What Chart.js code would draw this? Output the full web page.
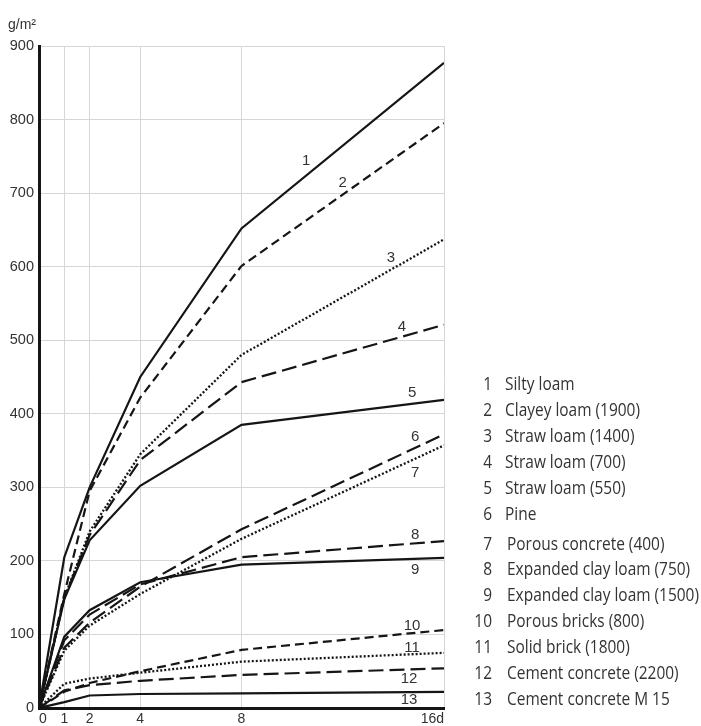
<!DOCTYPE html>
<html>
<head>
<meta charset="utf-8">
<script src="https://cdn.jsdelivr.net/npm/chart.js@4/dist/chart.umd.min.js"></script>
<style>
html,body{margin:0;padding:0;background:#fff;}
#wrap{width:701px;height:726px;position:relative;}
</style>
</head>
<body>
<div id="wrap"><canvas id="c" width="701" height="726"></canvas></div>
<script>
// ---- data ----
const xDays = [0, 1, 2, 4, 8, 16];
const xTickLabels = ["0", "1", "2", "4", "8", "16d"];
const yTicks = [0, 100, 200, 300, 400, 500, 600, 700, 800, 900];
const unitLabel = "g/m²";

const s1  = [0, 205, 300, 450, 652, 877];
const s2  = [0, 155, 295, 422, 601, 795];
const s3  = [0, 150, 240, 345, 480, 637];
const s4  = [0, 150, 235, 337, 443, 521];
const s5  = [0, 148, 228, 302, 385, 419];
const s6  = [0, 82, 116, 165, 243, 372];
const s7  = [0, 78, 112, 155, 230, 357];
const s8  = [0, 92, 127, 168, 205, 227];
const s9  = [0, 97, 133, 171, 195, 204];
const s10 = [0, 22, 34, 50, 79, 106];
const s11 = [0, 33, 40, 48, 63, 75];
const s12 = [0, 24, 31, 37, 45, 54];
const s13 = [0, 8, 17, 19, 20, 22];

const seriesNumbers = ["1","2","3","4","5","6","7","8","9","10","11","12","13"];
const seriesNames = [
  "Silty loam",
  "Clayey loam (1900)",
  "Straw loam (1400)",
  "Straw loam (700)",
  "Straw loam (550)",
  "Pine",
  "Porous concrete (400)",
  "Expanded clay loam (750)",
  "Expanded clay loam (1500)",
  "Porous bricks (800)",
  "Solid brick (1800)",
  "Cement concrete (2200)",
  "Cement concrete M 15"
];
// label anchor positions on each curve (data units: day, g/m²)
const labelDays   = [10.55, 12.0, 13.9, 14.34, 14.74, 14.86, 14.86, 14.86, 14.86, 14.74, 14.74, 14.62, 14.62];
const labelValues = [744, 714, 612, 518, 428, 368, 319, 235, 188, 111, 82, 39, 11];

// ---- styles ----
const allSeries = [s1,s2,s3,s4,s5,s6,s7,s8,s9,s10,s11,s12,s13];
const styleKinds = ["solid","dash","dot","long","solid","long","dot","long","solid","dash","dot","long","solid"];
const dashFor = {solid: [], dash: [9,5], dot: [2,2], long: [15,6]};
const ink = "#151515";

const datasets = allSeries.map((arr, i) => ({
  label: seriesNumbers[i] + " " + seriesNames[i],
  data: xDays.map((d, j) => ({x: d, y: arr[j]})),
  borderColor: ink,
  borderWidth: styleKinds[i] === "dot" ? 2.3 : 2.2,
  borderDash: dashFor[styleKinds[i]],
  pointRadius: 0,
  tension: 0,
  fill: false
}));

const annot = {
  id: "annot",
  afterDatasetsDraw(chart) {
    const ctx = chart.ctx;
    const xs = chart.scales.x, ys = chart.scales.y;
    ctx.save();
    // curve numbers
    ctx.fillStyle = "#333";
    ctx.font = "15px 'Liberation Sans', Arial, sans-serif";
    ctx.textAlign = "center";
    ctx.textBaseline = "middle";
    for (let i = 0; i < seriesNumbers.length; i++) {
      ctx.fillText(seriesNumbers[i], xs.getPixelForValue(labelDays[i]), ys.getPixelForValue(labelValues[i]));
    }
    // unit
    ctx.font = "14px 'Liberation Sans', Arial, sans-serif";
    ctx.textAlign = "left";
    ctx.fillStyle = "#333";
    ctx.fillText(unitLabel, 8, 25);
    // legend
    const legX = 492, textX0 = 505, rowTop = 385, rowH = 25.9;
    const legFont = "18px 'Open Sans', sans-serif";
    ctx.font = legFont;
    const longest = seriesNames.reduce((a, b) => ctx.measureText(a).width > ctx.measureText(b).width ? a : b);
    const sx = 192 / ctx.measureText(longest).width;
    for (let i = 0; i < seriesNames.length; i++) {
      const y = rowTop + i * rowH + (i >= 6 ? 4 : 0);
      const tx = i >= 6 ? textX0 + 2 : textX0;
      ctx.save();
      ctx.translate(legX, y);
      ctx.scale(sx, 1);
      ctx.textAlign = "right";
      ctx.fillStyle = "#333";
      ctx.fillText(seriesNumbers[i], 0, 0);
      ctx.restore();
      ctx.save();
      ctx.translate(tx, y);
      ctx.scale(sx, 1);
      ctx.textAlign = "left";
      ctx.fillStyle = "#333";
      ctx.fillText(seriesNames[i], 0, 0);
      ctx.restore();
    }
    ctx.restore();
  }
};

new Chart(document.getElementById("c"), {
  type: "line",
  data: {datasets},
  options: {
    responsive: false,
    animation: false,
    events: [],
    layout: {padding: {top: 46, right: 257, left: 0, bottom: 0}},
    plugins: {legend: {display: false}, tooltip: {enabled: false}, title: {display: false}},
    scales: {
      x: {
        type: "linear",
        min: 0, max: 16,
        afterBuildTicks(scale) { scale.ticks = xDays.map(v => ({value: v})); },
        afterFit(scale) { scale.height = 18; },
        ticks: {
          autoSkip: false,
          maxRotation: 0,
          align: "inner",
          padding: 3,
          color: "#333",
          font: {family: "'Liberation Sans', Arial, sans-serif", size: 14},
          callback(v) { const k = xDays.indexOf(v); return k >= 0 ? xTickLabels[k] : ""; }
        },
        grid: {
          drawTicks: false,
          lineWidth: 1,
          color(c) { return c.tick && c.tick.value === 0 ? "rgba(0,0,0,0)" : "#d6d6d6"; }
        },
        border: {display: true, color: ink, width: 3}
      },
      y: {
        type: "linear",
        min: 0, max: 900,
        afterBuildTicks(scale) { scale.ticks = yTicks.map(v => ({value: v})); },
        afterFit(scale) { scale.width = 39; },
        ticks: {
          padding: 5,
          color: "#333",
          font: {family: "'Liberation Sans', Arial, sans-serif", size: 14.5},
          callback(v) { return String(v); }
        },
        grid: {
          drawTicks: false,
          lineWidth: 1,
          color(c) { return c.tick && c.tick.value === 0 ? "rgba(0,0,0,0)" : "#d6d6d6"; }
        },
        border: {display: true, color: ink, width: 3}
      }
    }
  },
  plugins: [annot]
});
</script>
</body>
</html>
